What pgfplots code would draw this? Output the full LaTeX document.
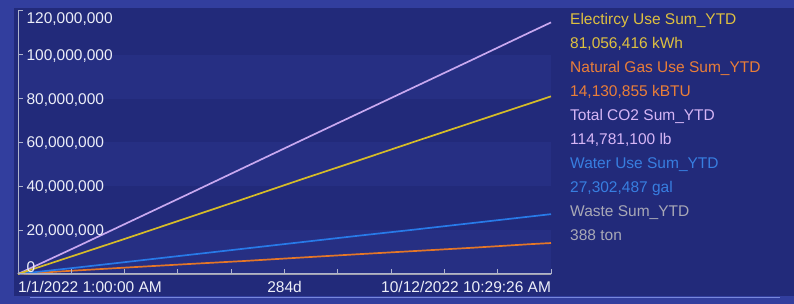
\documentclass[border=0pt]{standalone}
\usepackage{pgfplots}
\pgfplotsset{compat=1.18}
\usepackage{fontspec}
\setmainfont{Liberation Sans}
\definecolor{outerbg}{RGB}{50,62,158}
\definecolor{innerbg}{RGB}{34,42,122}
\definecolor{bandc}{RGB}{38,47,131}
\definecolor{bottomline}{RGB}{120,135,220}
\definecolor{axislc}{RGB}{175,180,205}
\definecolor{ticktext}{RGB}{236,238,248}
\definecolor{cco}{RGB}{200,168,240}
\definecolor{celec}{RGB}{214,188,40}
\definecolor{cwater}{RGB}{40,122,232}
\definecolor{cgas}{RGB}{228,118,40}
\definecolor{cwaste}{RGB}{160,160,172}
\definecolor{telec}{RGB}{222,192,64}
\definecolor{tgas}{RGB}{234,126,56}
\definecolor{tco}{RGB}{214,182,246}
\definecolor{twater}{RGB}{56,126,224}
\definecolor{twaste}{RGB}{168,168,182}
\newcommand{\yl}[2]{\raisebox{#1}[0pt][0pt]{#2}}
\begin{document}
\begin{tikzpicture}[x=1pt,y=1pt]
\fill[outerbg] (0,0) rectangle (794,304);
\fill[innerbg] (14,8) rectangle (794,296);
\draw[bottomline, line width=1.5pt] (30,6.5) -- (780,6.5);
\begin{axis}[
  at={(18pt,30pt)}, anchor=south west,
  scale only axis, width=533pt, height=263pt,
  xmin=0, xmax=284.4, ymin=0, ymax=120000000,
  axis x line=bottom, axis y line=left,
  axis line style={-, axislc, line width=1pt},
  tick align=inside, major tick length=5pt,
  tick style={axislc, line width=1pt},
  ytick={0,20000000,40000000,60000000,80000000,100000000,120000000},
  yticklabels={\yl{1.5pt}{0},\yl{-5.5pt}{20,000,000},\yl{-5.5pt}{40,000,000},\yl{-5.5pt}{60,000,000},\yl{-5.5pt}{80,000,000},\yl{-5.5pt}{100,000,000},\yl{-12.5pt}{120,000,000}},
  yticklabel style={anchor=west, xshift=5pt, font=\fontsize{15.5}{18}\selectfont, text=ticktext},
  xtick={0,28.44,56.88,85.32,113.76,142.2,170.64,199.08,227.52,255.96,284.4},
  xticklabels={\makebox[0pt][l]{1/1/2022 1:00:00 AM},,,,,284d,,,,,\makebox[0pt][r]{10/12/2022 10:29:26 AM}},
  xticklabel style={anchor=north, yshift=-4pt, font=\fontsize{15.5}{18}\selectfont, text=ticktext},
  scaled y ticks=false,
  clip=false,
  axis on top,
]
\fill[bandc] (axis cs:0,0) rectangle (axis cs:284.4,20000000);
\fill[bandc] (axis cs:0,40000000) rectangle (axis cs:284.4,60000000);
\fill[bandc] (axis cs:0,80000000) rectangle (axis cs:284.4,100000000);
\addplot[cwaste, line width=1.7pt] coordinates {(0,0) (90,120) (181,245) (284.4,388)};
\addplot[cgas, line width=1.7pt] coordinates {(0,0) (31,1600000) (59,3000000) (90,4500000) (120,5900000) (151,7500000) (181,9000000) (212,10500000) (243,12000000) (273,13600000) (284.4,14130855)};
\addplot[cwater, line width=1.7pt] coordinates {(0,0) (31,2900000) (59,5600000) (90,8600000) (120,11500000) (151,14500000) (181,17400000) (212,20300000) (243,23300000) (273,26200000) (284.4,27302487)};
\addplot[cco, line width=1.7pt] coordinates {(0,0) (31,12300000) (59,23600000) (90,36100000) (120,48300000) (151,60900000) (181,73000000) (212,85500000) (243,98000000) (273,110200000) (284.4,114781100)};
\addplot[celec, line width=1.7pt] coordinates {(0,0) (31,8700000) (59,16600000) (90,25500000) (120,34100000) (151,43100000) (181,51600000) (212,60500000) (243,69300000) (273,77800000) (284.4,81056416)};
\end{axis}
\begin{scope}[every node/.style={anchor=base west, inner sep=0pt, font=\fontsize{15.5}{18}\selectfont}]
\node[text=telec] at (570,279.5) {Electircy Use Sum\_YTD};
\node[text=telec] at (570,255) {81,056,416 kWh};
\node[text=tgas] at (570,231) {Natural Gas Use Sum\_YTD};
\node[text=tgas] at (570,207.5) {14,130,855 kBTU};
\node[text=tco] at (570,183) {Total CO2 Sum\_YTD};
\node[text=tco] at (570,159.5) {114,781,100 lb};
\node[text=twater] at (570,135) {Water Use Sum\_YTD};
\node[text=twater] at (570,111.5) {27,302,487 gal};
\node[text=twaste] at (570,87) {Waste Sum\_YTD};
\node[text=twaste] at (570,63) {388 ton};
\end{scope}
\end{tikzpicture}
\end{document}
